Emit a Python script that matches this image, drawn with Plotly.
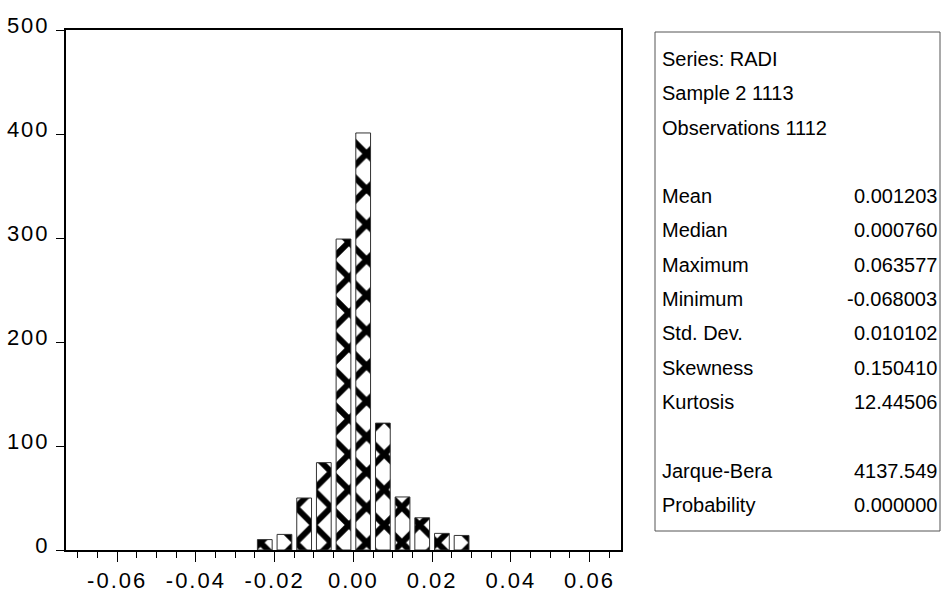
import plotly.graph_objects as go

# ---- data ----
bin_centers = [-0.0225, -0.0175, -0.0125, -0.0075, -0.0025, 0.0025, 0.0075, 0.0125, 0.0175, 0.0225, 0.0275]
counts = [10, 15, 50, 84, 299, 401, 122, 51, 31, 16, 14]

x_tick_vals = [-0.06, -0.04, -0.02, 0.00, 0.02, 0.04, 0.06]
x_tick_text = ["-0.06", "-0.04", "-0.02", "0.00", "0.02", "0.04", "0.06"]
y_tick_vals = [0, 100, 200, 300, 400, 500]
y_tick_text = ["0", "100", "200", "300", "400", "500"]

stat_labels = ["Series: RADI", "Sample 2 1113", "Observations 1112", "",
               "Mean", "Median", "Maximum", "Minimum", "Std. Dev.", "Skewness", "Kurtosis", "",
               "Jarque-Bera", "Probability"]
stat_values = ["", "", "", "",
               "0.001203", "0.000760", "0.063577", "-0.068003", "0.010102", "0.150410", "12.44506", "",
               "4137.549", "0.000000"]

# ---- layout constants (pixels) ----
W, H = 941, 595
L, R, T, B = 66, 621, 30, 550
PW, PH = R - L, B - T

def px_x(x):
    return (x - L) / PW

def px_y(y):
    return (B - y) / PH

axis_font = dict(family="Liberation Sans, Arial, sans-serif", size=22, color="black")
stat_font = dict(family="Liberation Sans Narrow, Arial Narrow, Liberation Sans, Arial, sans-serif",
                 size=20, color="black")

fig = go.Figure()
fig.add_trace(go.Bar(
    x=bin_centers,
    y=counts,
    marker=dict(
        color="white",
        line=dict(color="#333333", width=1),
        pattern=dict(shape="x", fgcolor="black", bgcolor="white", fgopacity=1,
                     size=25, solidity=0.42),
    ),
    hoverinfo="x+y",
))

annotations = []
box_left, box_right, box_top, box_bottom = 655, 940, 32, 531
row0, step = 59, 34.3
for i, (lab, val) in enumerate(zip(stat_labels, stat_values)):
    yy = row0 + step * i
    if lab:
        annotations.append(dict(
            x=px_x(660), y=px_y(yy), xref="paper", yref="paper",
            xanchor="left", yanchor="middle", text=lab, showarrow=False, font=stat_font))
    if val:
        annotations.append(dict(
            x=px_x(939), y=px_y(yy), xref="paper", yref="paper",
            xanchor="right", yanchor="middle", text=val, showarrow=False, font=stat_font))

fig.update_layout(
    width=W, height=H, autosize=False,
    margin=dict(l=L, r=W - R, t=T, b=H - B, pad=0, autoexpand=False),
    paper_bgcolor="white", plot_bgcolor="white",
    bargap=0.25,
    showlegend=False,
    annotations=annotations,
    shapes=[dict(type="rect", xref="paper", yref="paper",
                 x0=px_x(box_left), x1=px_x(box_right), y0=px_y(box_bottom), y1=px_y(box_top),
                 line=dict(color="#555555", width=1), fillcolor="rgba(0,0,0,0)")],
    xaxis=dict(
        range=[-0.073, 0.068], automargin=False,
        tickvals=x_tick_vals, ticktext=x_tick_text,
        ticks="outside", ticklen=10, tickwidth=1, tickcolor="black",
        showline=True, linecolor="black", linewidth=2, mirror=True,
        showgrid=False, zeroline=False,
        tickfont=axis_font,
        minor=dict(dtick=0.005, tick0=0, ticks="outside", ticklen=6, tickcolor="black", tickwidth=1, showgrid=False),
    ),
    yaxis=dict(
        range=[0, 500], automargin=False,
        tickvals=y_tick_vals, ticktext=y_tick_text,
        ticks="outside", ticklen=8, tickwidth=1, tickcolor="black",
        showline=True, linecolor="black", linewidth=2, mirror=True,
        showgrid=False, zeroline=False,
        tickfont=axis_font, ticklabelshift=-5, ticklabelstandoff=2,
    ),
)

post = """
document.body.style.margin = '0';
var s = document.createElement('style');
s.innerHTML = '.xtick text, .ytick text { letter-spacing: 2px; }';
document.head.appendChild(s);
"""
fig.write_html("out.html", post_script=post, config={"displayModeBar": False})
